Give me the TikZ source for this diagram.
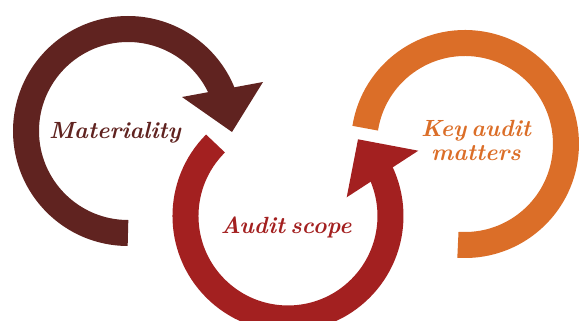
\documentclass[tikz,border=0pt]{standalone}
\usetikzlibrary{positioning}
\definecolor{burgundy}{HTML}{602320}
\definecolor{darkred}{HTML}{A32020}
\definecolor{pwcorange}{RGB}{219,110,40}
\newcommand{\lblfont}{\fontsize{23.5}{24}\selectfont\bfseries\itshape\spaceskip=0.22em\relax}
\begin{document}
\begin{tikzpicture}[line cap=butt,x=1bp,y=1bp,
  ring/.style={line width=26bp},
  lbl/.style={font=\lblfont,inner sep=0pt}]
\useasboundingbox (0,0) rectangle (579,320);
\clip (0,0) rectangle (579,320);
% materiality
\draw[ring,color=burgundy] (128,87) arc[start angle=270,end angle=22,radius=102];
\fill[color=burgundy] (182,223) -- (263,238) -- (232,188) -- cycle;
% audit scope
\draw[ring,color=darkred] (215.5,176.5) arc[start angle=135,end angle=388,radius=102.5];
\fill[color=darkred] (418.3,169.3) -- (346.7,122.7) -- (358,180.7) -- cycle;
% key audit matters
\draw[ring,color=pwcorange] (365.2,191.8) arc[start angle=171,end angle=-94,radius=101];
\node[lbl,color=burgundy,anchor=base] (mat) at (115,182) {Materiality};
\node[lbl,color=darkred,anchor=base] (scope) at (286,87) {Audit scope};
\node[lbl,color=pwcorange,anchor=base,align=center] (kam) at (476,160) {Key audit\\matters};
\end{tikzpicture}
\end{document}
